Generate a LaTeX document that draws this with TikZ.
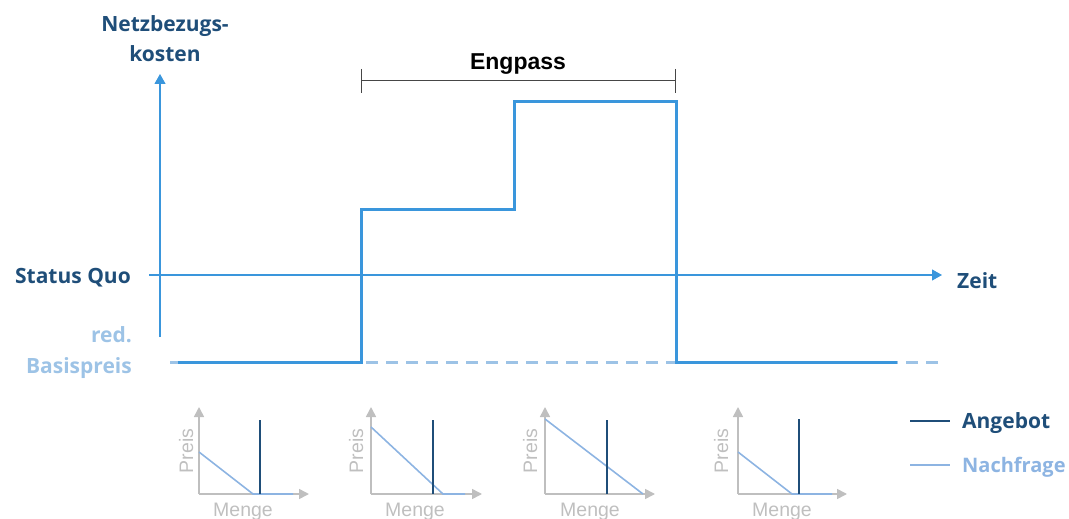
\documentclass[tikz,border=0pt]{standalone}
\usepackage{fontspec}
\setmainfont{Open Sans}
\newfontfamily\arialfont{Liberation Sans}
\usetikzlibrary{arrows.meta}

\definecolor{darkblue}{RGB}{31,78,121}
\definecolor{lightblue}{RGB}{157,195,230}
\definecolor{stepblue}{RGB}{58,150,220}
\definecolor{demandblue}{RGB}{141,180,226}
\definecolor{axisgray}{RGB}{191,191,191}
\definecolor{bracketgray}{RGB}{70,70,70}

\tikzset{
  darklabel/.style={font=\fontsize{21}{21}\selectfont\bfseries, text=darkblue, inner sep=0pt},
  lightlabel/.style={font=\fontsize{21}{21}\selectfont\bfseries, text=lightblue, inner sep=0pt},
  axisline/.style={stepblue, line width=1.1pt, -{Triangle[length=10pt,width=11pt]}},
  stepline/.style={stepblue, line width=3pt},
  baseline dash/.style={lightblue, line width=3pt, dash pattern=on 12pt off 8pt},
  miniaxis/.style={axisgray, line width=1.6pt, -{Triangle[length=10pt,width=10pt]}},
  supply/.style={darkblue, line width=2pt},
  demand/.style={demandblue, line width=1.6pt},
  minitext/.style={font=\arialfont\fontsize{19.5}{19.5}\selectfont, text=axisgray, inner sep=0pt}
}

\begin{document}
\begin{tikzpicture}[x=1pt, y=-1pt]
  \useasboundingbox (0,0) rectangle (1069,519);

  % Achsen
  \draw[axisline] (160,337) -- (160,74);
  \draw[axisline] (149,275) -- (942,275);

  \node[darklabel, anchor=base] (ylabel1) at (165,32) {Netzbezugs-};
  \node[darklabel, anchor=base] (ylabel2) at (165,62) {kosten};
  \node[darklabel, anchor=base east] (statusquo) at (131,283) {Status Quo};
  \node[lightlabel, anchor=base east] (red) at (132,342) {red.};
  \node[lightlabel, anchor=base east] (basispreis) at (132,373) {Basispreis};
  \node[darklabel, anchor=base west] (zeit) at (957,288) {Zeit};

  % Preisverlauf
  \draw[baseline dash] (938,362) -- (170,362);
  \draw[stepline] (178,362) -- (361,362) -- (361,209) -- (514,209)
        -- (514,102) -- (676,102) -- (676,362) -- (897,362);

  % Engpass
  \draw[bracketgray, line width=1pt] (361,69) -- (361,93);
  \draw[bracketgray, line width=1pt] (675,69) -- (675,93);
  \draw[bracketgray, line width=1pt] (361,81) -- (675,81);
  \node[font=\arialfont\fontsize{23}{23}\selectfont\bfseries, inner sep=0pt, anchor=base] (engpass) at (518,70) {Engpass};

  % Markt 1
  \draw[miniaxis] (199,494) -- (199,407);
  \draw[miniaxis] (199,494) -- (309,494);
  \draw[demand] (199,452) -- (253,494) -- (293,494);
  \draw[supply] (260,420) -- (260,494);
  \node[minitext, rotate=90, anchor=base] (preis1) at (193,451) {Preis};
  \node[minitext, anchor=base] (menge1) at (243,516) {Menge};

  % Markt 2
  \draw[miniaxis] (371,494) -- (371,407);
  \draw[miniaxis] (371,494) -- (482,494);
  \draw[demand] (371,427) -- (443,494) -- (465,494);
  \draw[supply] (433,420) -- (433,494);
  \node[minitext, rotate=90, anchor=base] (preis2) at (363,451) {Preis};
  \node[minitext, anchor=base] (menge2) at (415,516) {Menge};

  % Markt 3
  \draw[miniaxis] (545,494) -- (545,407);
  \draw[miniaxis] (545,494) -- (655,494);
  \draw[demand] (545,419) -- (643,494);
  \draw[supply] (607,420) -- (607,494);
  \node[minitext, rotate=90, anchor=base] (preis3) at (537,451) {Preis};
  \node[minitext, anchor=base] (menge3) at (590,516) {Menge};

  % Markt 4
  \draw[miniaxis] (738,494) -- (738,407);
  \draw[miniaxis] (738,494) -- (847,494);
  \draw[demand] (738,452) -- (792,494) -- (832,494);
  \draw[supply] (799,419) -- (799,494);
  \node[minitext, rotate=90, anchor=base] (preis4) at (728,451) {Preis};
  \node[minitext, anchor=base] (menge4) at (782,516) {Menge};

  % Legende
  \draw[supply] (910,421) -- (950,421);
  \node[darklabel, anchor=base west] (angebot) at (962,428) {Angebot};
  \draw[demand] (910,465) -- (950,465);
  \node[lightlabel, text=demandblue, font=\fontsize{20}{20}\selectfont\bfseries, anchor=base west] (nachfrage) at (962,472) {Nachfrage};
\end{tikzpicture}
\end{document}
